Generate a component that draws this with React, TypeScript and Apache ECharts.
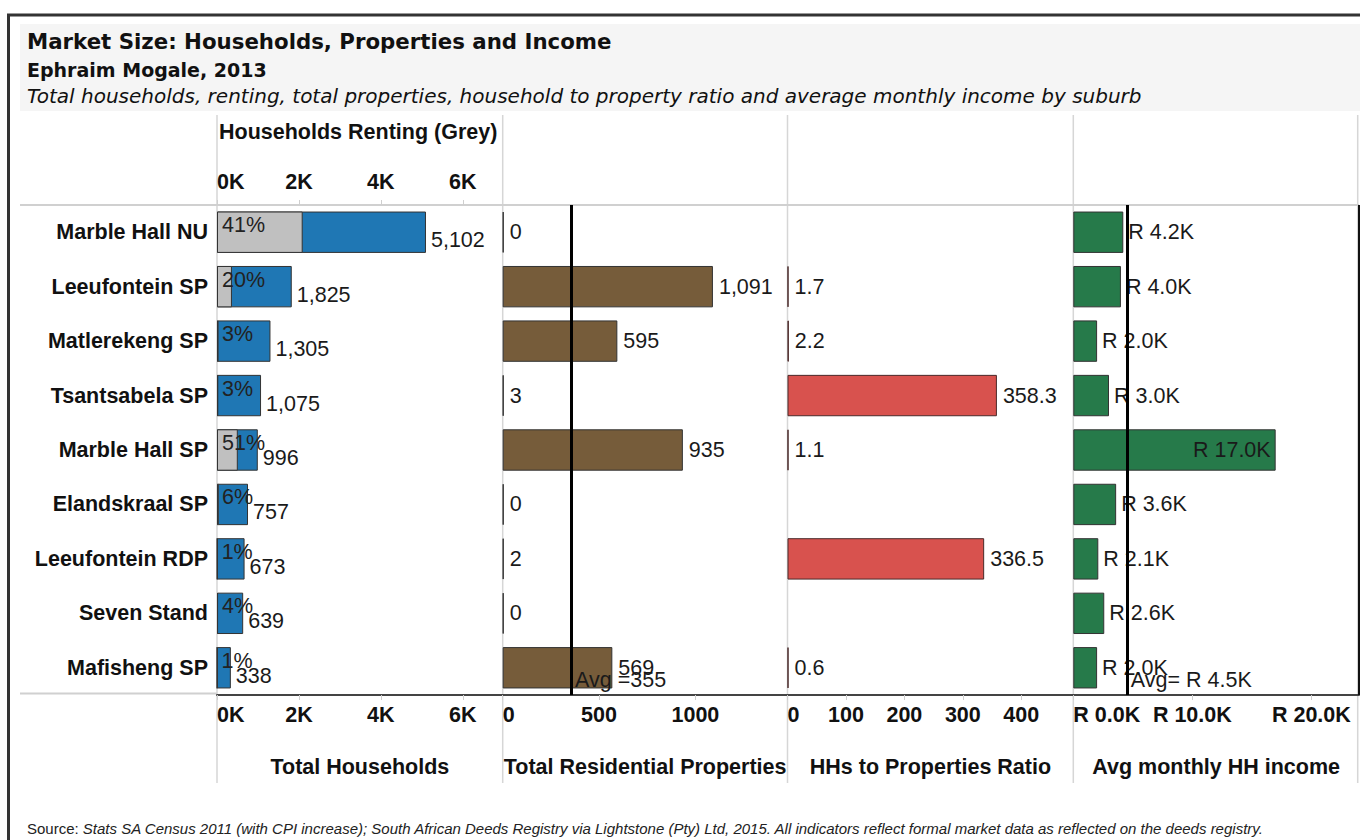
import React, { useEffect, useRef } from "react";
import * as echarts from "echarts";

// ---------- data ----------
const suburbs = [
  "Marble Hall NU",
  "Leeufontein SP",
  "Matlerekeng SP",
  "Tsantsabela SP",
  "Marble Hall SP",
  "Elandskraal SP",
  "Leeufontein RDP",
  "Seven Stand",
  "Mafisheng SP",
];
const totalHouseholds = [5102, 1825, 1305, 1075, 996, 757, 673, 639, 338];
const rentingPct = [41, 20, 3, 3, 51, 6, 1, 4, 1];
const rentingHouseholds = [2092, 365, 39, 32, 508, 45, 7, 26, 3];
const totalProperties = [0, 1091, 595, 3, 935, 0, 2, 0, 569];
const hhPropertyRatio: (number | null)[] = [null, 1.7, 2.2, 358.3, 1.1, null, 336.5, null, 0.6];
const avgMonthlyIncome = [4200, 4000, 2000, 3000, 17000, 3600, 2100, 2600, 2000];
const avgProperties = 355;
const avgIncomeAll = 4500;

const householdsAxis = { max: 6975, interval: 2000 };
const propertiesAxis = { max: 1478, interval: 500 };
const ratioAxis = { max: 489, interval: 100 };
const incomeAxis = { max: 24000, interval: 10000 };

const panelTitles = [
  "Total Households",
  "Total Residential Properties",
  "HHs to Properties Ratio",
  "Avg monthly HH income",
];

// ---------- styling ----------
const ARIAL = '"Liberation Sans", Arial, sans-serif';
const TITLE_FONT = '"DejaVu Sans", sans-serif';
const FS = 21.5;
const GRID_TOP = 205;
const GRID_H = 490;
const EDGES = [217, 502.7, 787.5, 1073.3, 1359];

const fmtK = (v: number) => (v % 1000 === 0 ? v / 1000 + "K" : "");
const fmtInt = (v: number) => String(v);
const fmtR = (v: number) => "R " + (v / 1000).toFixed(1) + "K";

function App() {
  const ref = useRef<HTMLDivElement>(null);

  useEffect(() => {
    if (!ref.current) return;
    const chart = echarts.init(ref.current, undefined, { renderer: "svg" });

    const labelStyle = {
      fontFamily: ARIAL,
      fontSize: FS,
      fontWeight: "bold" as const,
      color: "#111",
    };

    const bottomAxis = (
      gridIndex: number,
      range: { max: number; interval: number },
      formatter: (v: number) => string,
      name: string
    ) => ({
      type: "value",
      gridIndex,
      position: "bottom",
      min: 0,
      max: range.max,
      interval: range.interval,
      axisLine: { show: true, lineStyle: { color: "#444", width: 2 } },
      axisTick: { show: true, length: 5, lineStyle: { color: "#cfcfcf", width: 1 } },
      splitLine: { show: false },
      axisLabel: {
        ...labelStyle,
        margin: 9,
        showMaxLabel: false,
        alignMinLabel: "left",
        formatter: (v: number) => (v % range.interval === 0 ? formatter(v) : ""),
      },
      name,
      nameLocation: "middle",
      nameGap: 61,
      nameTextStyle: { ...labelStyle },
    });

    const xAxis: any[] = [
      bottomAxis(0, householdsAxis, fmtK, panelTitles[0]),
      {
        type: "value",
        gridIndex: 0,
        position: "top",
        min: 0,
        max: householdsAxis.max,
        interval: householdsAxis.interval,
        axisLine: { show: false },
        axisTick: { show: true, length: 5, lineStyle: { color: "#cfcfcf", width: 1 } },
        splitLine: { show: false },
        axisLabel: {
          ...labelStyle,
          margin: 12,
          showMaxLabel: false,
          alignMinLabel: "left",
          formatter: (v: number) => (v % householdsAxis.interval === 0 ? fmtK(v) : ""),
        },
      },
      bottomAxis(1, propertiesAxis, fmtInt, panelTitles[1]),
      bottomAxis(2, ratioAxis, fmtInt, panelTitles[2]),
      bottomAxis(3, incomeAxis, fmtR, panelTitles[3]),
    ];

    const yAxis: any[] = [0, 1, 2, 3].map((i) => ({
      type: "category",
      gridIndex: i,
      data: suburbs,
      inverse: true,
      axisLine: { show: false },
      axisTick: { show: false },
      splitLine: { show: false },
      axisLabel: i === 0 ? { ...labelStyle, margin: 9 } : { show: false },
    }));

    const grid = [0, 1, 2, 3].map((i) => ({
      left: EDGES[i],
      top: GRID_TOP,
      width: EDGES[i + 1] - EDGES[i],
      height: GRID_H,
      containLabel: false,
    }));

    const valueLabel = {
      fontFamily: ARIAL,
      fontSize: FS,
      color: "#1a1a1a",
    };
    const barBorder = { borderColor: "#333", borderWidth: 1 };
    const avgLine = (value: number) => ({
      silent: true,
      symbol: "none",
      label: { show: false },
      lineStyle: { color: "#000", width: 3, type: "solid" },
      data: [{ xAxis: value }],
    });
    const avgLabel = (value: number, text: string) => ({
      silent: true,
      symbolSize: 0,
      itemStyle: { color: "transparent" },
      label: {
        show: true,
        position: "right",
        distance: 4,
        offset: [0, 12],
        ...valueLabel,
        formatter: text,
      },
      data: [{ coord: [value, suburbs.length - 1] }],
    });

    const series: any[] = [
      {
        type: "bar",
        name: "Total households",
        xAxisIndex: 0,
        yAxisIndex: 0,
        data: totalHouseholds,
        barGap: "-100%",
        barCategoryGap: "24%",
        itemStyle: { color: "#1f77b4", ...barBorder },
        label: {
          show: true,
          position: "right",
          distance: 5,
          offset: [0, 8],
          ...valueLabel,
          formatter: (p: any) => Number(p.value).toLocaleString("en-US"),
        },
      },
      {
        type: "bar",
        name: "Households renting",
        xAxisIndex: 0,
        yAxisIndex: 0,
        data: rentingHouseholds,
        barGap: "-100%",
        barCategoryGap: "24%",
        itemStyle: { color: "#c0c0c0", ...barBorder },
        label: {
          show: true,
          position: "insideLeft",
          distance: 5,
          offset: [0, -7],
          ...valueLabel,
          color: "#222",
          formatter: (p: any) => rentingPct[p.dataIndex] + "%",
        },
      },
      {
        type: "bar",
        name: "Total residential properties",
        xAxisIndex: 2,
        yAxisIndex: 1,
        data: totalProperties,
        barCategoryGap: "24%",
        barMinHeight: 1,
        itemStyle: { color: "#765c3a", ...barBorder },
        label: {
          show: true,
          position: "right",
          distance: 6,
          ...valueLabel,
          formatter: (p: any) => Number(p.value).toLocaleString("en-US"),
        },
        markLine: avgLine(avgProperties),
        markPoint: avgLabel(avgProperties, "Avg =" + avgProperties),
      },
      {
        type: "bar",
        name: "HHs to properties ratio",
        xAxisIndex: 3,
        yAxisIndex: 2,
        data: hhPropertyRatio,
        barCategoryGap: "24%",
        barMinHeight: 1,
        itemStyle: { color: "#d8524e", borderColor: "#4a2a2a", borderWidth: 1 },
        label: {
          show: true,
          position: "right",
          distance: 6,
          ...valueLabel,
          formatter: (p: any) => (p.value == null ? "" : Number(p.value).toFixed(1)),
        },
      },
      {
        type: "bar",
        name: "Avg monthly HH income",
        xAxisIndex: 4,
        yAxisIndex: 3,
        data: avgMonthlyIncome.map((v) =>
          v > avgIncomeAll * 3
            ? { value: v, label: { position: "insideRight" } }
            : v
        ),
        barCategoryGap: "24%",
        itemStyle: { color: "#267a4a", ...barBorder },
        label: {
          show: true,
          position: "right",
          distance: 5,
          ...valueLabel,
          formatter: (p: any) => fmtR(Number(p.value)),
        },
        markLine: avgLine(avgIncomeAll),
        markPoint: avgLabel(avgIncomeAll, "Avg= " + fmtR(avgIncomeAll)),
      },
    ];

    const divider = (x: number) => ({
      type: "line",
      z: -1,
      silent: true,
      shape: { x1: x, y1: 115, x2: x, y2: 783 },
      style: { stroke: "#d6d6d6", lineWidth: 1.5 },
    });

    const graphic: any[] = [
      {
        type: "rect",
        z: -2,
        silent: true,
        shape: { x: 20, y: 24, width: 1345, height: 87 },
        style: { fill: "#f5f5f5" },
      },
      {
        type: "rect",
        z: -2,
        silent: true,
        shape: { x: 8.5, y: 15, width: 1420, height: 900 },
        style: { fill: "none", stroke: "#333", lineWidth: 3 },
      },
      ...[217, 502.7, 787.5, 1073.3, 1357.7].map(divider),
      {
        type: "line",
        z: -1,
        silent: true,
        shape: { x1: 20, y1: 205, x2: 1359, y2: 205 },
        style: { stroke: "#d0d0d0", lineWidth: 2 },
      },
      {
        type: "line",
        z: -1,
        silent: true,
        shape: { x1: 20, y1: 693.5, x2: 217, y2: 693.5 },
        style: { stroke: "#d0d0d0", lineWidth: 2 },
      },
      {
        type: "line",
        z: 10,
        silent: true,
        shape: { x1: 1359, y1: 205, x2: 1359, y2: 695 },
        style: { stroke: "#111", lineWidth: 2 },
      },
    ];

    chart.setOption({
      animation: false,
      backgroundColor: "#ffffff",
      title: [
        {
          text: "Market Size: Households, Properties and Income",
          left: 22,
          top: 26,
          textStyle: { fontFamily: TITLE_FONT, fontSize: 21.3, fontWeight: "bold", color: "#111" },
        },
        {
          text: "Ephraim Mogale, 2013",
          left: 22,
          top: 55,
          textStyle: { fontFamily: TITLE_FONT, fontSize: 19, fontWeight: "bold", color: "#111" },
        },
        {
          text:
            "Total households, renting, total properties, household to property ratio and average monthly income by suburb",
          left: 22,
          top: 81,
          textStyle: {
            fontFamily: TITLE_FONT,
            fontSize: 20,
            fontStyle: "italic",
            fontWeight: "normal",
            color: "#111",
          },
        },
        {
          text: "Households Renting (Grey)",
          left: 214,
          top: 116,
          textStyle: { fontFamily: ARIAL, fontSize: FS, fontWeight: "bold", color: "#111" },
        },
        {
          text:
            "{a|Source: }{b|Stats SA Census 2011 (with CPI increase); South African Deeds Registry via Lightstone (Pty) Ltd, 2015. All indicators reflect formal market data as reflected on the deeds registry.}",
          left: 22,
          top: 816,
          textStyle: {
            fontWeight: "normal",
            rich: {
              a: { fontFamily: ARIAL, fontSize: 15, fontWeight: "normal", color: "#222" },
              b: {
                fontFamily: ARIAL,
                fontSize: 15,
                fontStyle: "italic",
                fontWeight: "normal",
                color: "#222",
              },
            },
          },
        },
      ],
      grid,
      xAxis,
      yAxis,
      series,
      graphic,
    });

    return () => chart.dispose();
  }, []);

  return (
    <div
      ref={ref}
      style={{ position: "absolute", left: 0, top: 0, width: 1360, height: 840 }}
    />
  );
}

export default App;
